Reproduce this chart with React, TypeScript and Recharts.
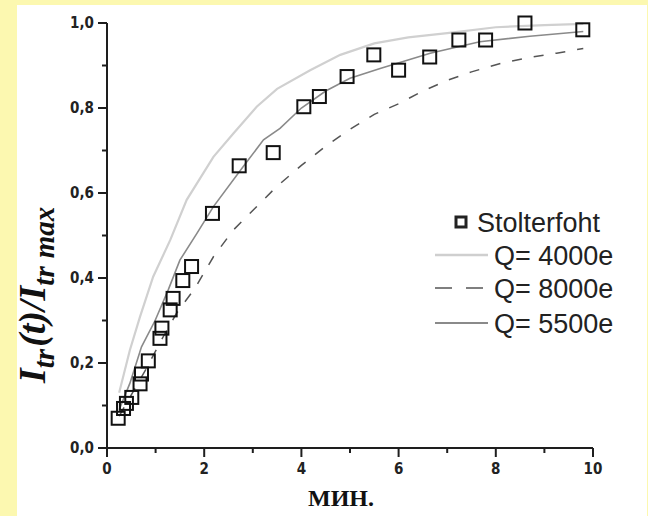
import React from 'react';
import { ComposedChart, Line, Scatter, XAxis, YAxis } from 'recharts';

// measured points (Stolterfoht)
const stolterfohtX = [0.23, 0.34, 0.4, 0.51, 0.68, 0.71, 0.85, 1.09, 1.13, 1.3, 1.36, 1.56, 1.74, 2.17, 2.72, 3.42, 4.05, 4.37, 4.94, 5.49, 6.0, 6.64, 7.24, 7.79, 8.6, 9.79];
const stolterfohtY = [0.07, 0.093, 0.105, 0.119, 0.151, 0.174, 0.205, 0.258, 0.282, 0.325, 0.352, 0.394, 0.427, 0.552, 0.664, 0.695, 0.803, 0.827, 0.874, 0.925, 0.889, 0.92, 0.96, 0.96, 1.0, 0.984];

// calculated curves
const q4000X = [0.25, 0.47, 0.68, 0.95, 1.3, 1.64, 2.19, 2.6, 3.08, 3.5, 4.18, 4.8, 5.5, 6.2, 7.0, 8.0, 9.0, 9.8];
const q4000Y = [0.13, 0.23, 0.309, 0.403, 0.489, 0.584, 0.685, 0.74, 0.803, 0.845, 0.889, 0.925, 0.952, 0.966, 0.976, 0.99, 0.995, 0.998];

const q8000X = [0.25, 0.5, 0.8, 1.1, 1.43, 1.81, 2.19, 2.6, 3.01, 3.49, 4.0, 4.5, 5.0, 5.5, 6.0, 6.5, 7.0, 7.5, 8.1, 8.7, 9.25, 9.8];
const q8000Y = [0.075, 0.125, 0.185, 0.25, 0.317, 0.376, 0.45, 0.513, 0.56, 0.615, 0.665, 0.71, 0.75, 0.785, 0.81, 0.84, 0.865, 0.885, 0.905, 0.919, 0.929, 0.94];

const q5500X = [0.25, 0.47, 0.71, 0.99, 1.26, 1.5, 1.85, 2.19, 2.8, 3.22, 3.56, 4.0, 4.5, 5.0, 5.62, 6.65, 7.67, 8.7, 9.8];
const q5500Y = [0.09, 0.152, 0.238, 0.3, 0.372, 0.442, 0.505, 0.568, 0.662, 0.725, 0.752, 0.8, 0.84, 0.87, 0.893, 0.929, 0.956, 0.969, 0.98];

const xTicks = [0, 1, 2, 3, 4, 5, 6, 7, 8, 9, 10];
const yTicks = [0, 0.1, 0.2, 0.3, 0.4, 0.5, 0.6, 0.7, 0.8, 0.9, 1.0];
const seriesNames = ['Stolterfoht', 'Q= 4000e', 'Q= 8000e', 'Q= 5500e'];

const zip = (xs: number[], ys: number[]) => xs.map((x, i) => ({ x, y: ys[i] }));

const stolterfoht = zip(stolterfohtX, stolterfohtY);
const q4000 = zip(q4000X, q4000Y);
const q8000 = zip(q8000X, q8000Y);
const q5500 = zip(q5500X, q5500Y);

const AXIS = '#1e1e1e';
const tickFont = "'Liberation Sans Narrow', 'DejaVu Sans Condensed', Arial, sans-serif";
const serif = "'Liberation Serif', 'Times New Roman', serif";

const XTick = (props: any) => {
  const { x, y, payload } = props;
  const v = payload.value;
  const major = v % 2 === 0;
  return (
    <g>
      <line x1={x} x2={x} y1={y} y2={y + (major ? 9 : 5)} stroke={AXIS} strokeWidth={2} />
      {major && (
        <text x={x} y={y + 26} textAnchor="middle" fontFamily={tickFont} fontWeight="bold" fontSize={15} fill="#222">
          {v}
        </text>
      )}
    </g>
  );
};

const YTick = (props: any) => {
  const { x, y, payload } = props;
  const v = Math.round(payload.value * 10);
  const major = v % 2 === 0;
  return (
    <g>
      <line x1={x} x2={x - (major ? 9 : 5)} y1={y} y2={y} stroke={AXIS} strokeWidth={2} />
      {major && (
        <text x={x - 13} y={y + 5} textAnchor="end" fontFamily={tickFont} fontWeight="bold" fontSize={15} fill="#222">
          {(v / 10).toFixed(1).replace('.', ',')}
        </text>
      )}
    </g>
  );
};

const Square = (props: any) => {
  const { cx, cy } = props;
  return <rect x={cx - 6.5} y={cy - 6.5} width={13} height={13} fill="none" stroke="#111" strokeWidth={2} />;
};

const YLabel = () => (
  <text transform="translate(45,383) rotate(-90)" fontFamily={serif} fontWeight="bold" fontStyle="italic" fill="#111">
    <tspan fontSize={38}>I</tspan>
    <tspan fontSize={29} dy={9}>tr</tspan>
    <tspan fontSize={38} dy={-9} dx={2}>(t)/I</tspan>
    <tspan fontSize={29} dy={9}>tr</tspan>
    <tspan fontSize={29} dx={8}>max</tspan>
  </text>
);

const XLabel = () => (
  <text x={341} y={506} textAnchor="middle" fontFamily={serif} fontWeight="bold" fontSize={24} fill="#111">
    МИН.
  </text>
);

const LegendBox = () => {
  const rows = [22, 55, 88, 123];
  const font = "'Liberation Sans', Arial, sans-serif";
  return (
    <svg width={220} height={150}>
      <rect x={31} y={rows[0] - 5} width={10} height={10} fill="#fff" stroke="#222" strokeWidth={3} />
      <line x1={10} x2={63} y1={rows[1]} y2={rows[1]} stroke="#cfcfcf" strokeWidth={2.5} />
      <line x1={10} x2={63} y1={rows[2]} y2={rows[2]} stroke="#555" strokeWidth={1.5} strokeDasharray="17 14" />
      <line x1={10} x2={63} y1={rows[3]} y2={rows[3]} stroke="#8a8a8a" strokeWidth={1.8} />
      {seriesNames.map((n, i) => (
        <text key={n} x={i === 0 ? 52 : 69} y={rows[i] + 10} fontFamily={font} fontSize={27} fill="#222">
          {n}
        </text>
      ))}
    </svg>
  );
};

export default function App() {
  return (
    <div style={{ position: 'relative', width: 648, height: 516, background: '#fcf8b0', overflow: 'hidden' }}>
      <style>{'body{margin:0}'}</style>
      <div style={{ position: 'absolute', left: 17, top: 5, width: 630, height: 511, background: '#ffffff' }} />
      <div style={{ position: 'absolute', left: 0, top: 0 }}>
        <ComposedChart width={648} height={516} margin={{ top: 23, right: 55, bottom: 38, left: 57 }}>
          <XAxis
            type="number"
            dataKey="x"
            domain={[0, 10]}
            ticks={xTicks}
            interval={0}
            tickSize={0}
            tickMargin={0}
            tickLine={false}
            tick={<XTick />}
            height={30}
            axisLine={{ stroke: AXIS, strokeWidth: 2 }}
            label={<XLabel />}
          />
          <YAxis
            type="number"
            dataKey="y"
            domain={[0, 1]}
            ticks={yTicks}
            interval={0}
            tickSize={0}
            tickMargin={0}
            tickLine={false}
            tick={<YTick />}
            width={50}
            axisLine={{ stroke: AXIS, strokeWidth: 2 }}
            label={<YLabel />}
          />
          <Line data={q4000} dataKey="y" stroke="#d0d0d0" strokeWidth={2.2} dot={false} isAnimationActive={false} type="linear" name={seriesNames[1]} />
          <Line data={q8000} dataKey="y" stroke="#555" strokeWidth={1.5} strokeDasharray="10 12" dot={false} isAnimationActive={false} type="linear" name={seriesNames[2]} />
          <Line data={q5500} dataKey="y" stroke="#8a8a8a" strokeWidth={1.6} dot={false} isAnimationActive={false} type="linear" name={seriesNames[3]} />
          <Scatter data={stolterfoht} dataKey="y" shape={<Square />} isAnimationActive={false} name={seriesNames[0]} />
        </ComposedChart>
      </div>
      <div style={{ position: 'absolute', left: 425, top: 200 }}>
        <LegendBox />
      </div>
    </div>
  );
}
